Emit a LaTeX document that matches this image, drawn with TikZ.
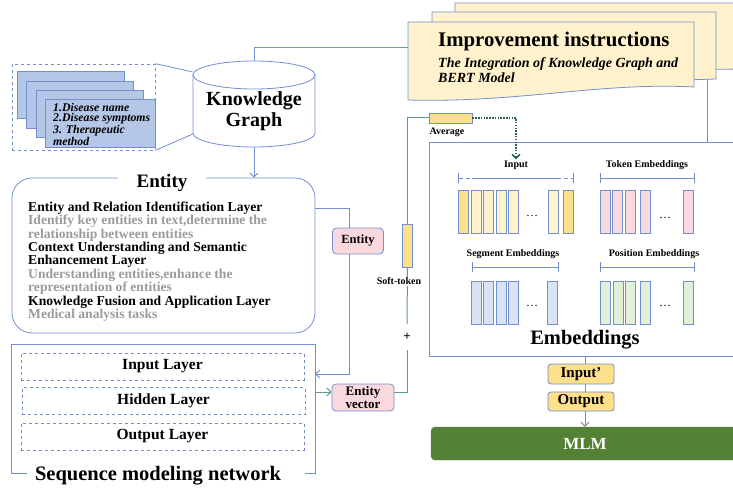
\documentclass[tikz,border=0pt]{standalone}
\usepackage{fontspec}
\setmainfont{Liberation Serif}
\usetikzlibrary{arrows.meta,positioning}

\definecolor{kgblue}{RGB}{114,143,206}
\definecolor{sheetblue}{RGB}{180,199,231}
\definecolor{paper}{RGB}{255,242,204}
\definecolor{gold}{RGB}{255,224,138}
\definecolor{rose}{RGB}{249,217,222}
\definecolor{segblue}{RGB}{218,227,243}
\definecolor{posgreen}{RGB}{226,240,217}
\definecolor{softteal}{RGB}{96,155,140}
\definecolor{darkteal}{RGB}{38,100,85}
\definecolor{stemgray}{RGB}{135,150,125}
\definecolor{mlmgreen}{RGB}{84,130,53}
\definecolor{note}{RGB}{155,155,155}

\tikzset{
  outline/.style={draw=kgblue, line width=0.8pt},
  sheet/.style={outline, fill=sheetblue, minimum width=107pt, minimum height=47pt, inner sep=0pt},
  netlayer/.style={draw=kgblue, dashed, line width=0.7pt, minimum width=283pt, minimum height=27pt, inner sep=0pt, font=\bfseries\fontsize{15.5}{16}\selectfont},
  entitytag/.style={outline, fill=rose, rounded corners=4pt, align=center, inner sep=0pt},
  pill/.style={outline, fill=gold, rounded corners=3pt, minimum width=66pt, inner sep=0pt, font=\bfseries\fontsize{15}{16}\selectfont},
  embbar/.style={draw=kgblue, line width=0.7pt, minimum width=10.5pt, minimum height=43pt, inner sep=0pt},
  lbl/.style={font=\bfseries\fontsize{10}{11}\selectfont, inner sep=1pt},
  bracket/.style={draw=kgblue, line width=0.7pt, {Bar[width=10pt]}-{Bar[width=10pt]}},
  link/.style={draw=kgblue, line width=0.8pt},
  tline/.style={draw=softteal, line width=1pt},
  barb/.style={-{Straight Barb[length=4pt,width=8pt]}},
}

\begin{document}
\begin{tikzpicture}[x=1pt, y=-1pt, font=\bfseries]
\useasboundingbox (0,0) rectangle (733,489);

\draw[outline, fill=paper] (455,3) -- (745,3) -- (745,69) -- (455,72) -- cycle;
\draw[outline, fill=paper] (432,12) -- (716,12) -- (716,79) -- (432,88) -- cycle;
\draw[outline, fill=paper] (408,22) -- (694,22) -- (694,87) .. controls (600,82) and (520,103) .. (408,100) -- cycle;
\node[anchor=base west, inner sep=0pt, font=\bfseries\fontsize{20.8}{22}\selectfont] (instr) at (438,47) {Improvement instructions};
\node[anchor=north west, inner sep=0pt, align=left, font=\bfseries\itshape\fontsize{14}{14.5}\selectfont] (instrsub) at (438,57.5) {The Integration of Knowledge Graph and\\BERT Model};
\coordinate (instrin) at (408,47);
\coordinate (instrout) at (707,79);

\node[draw=kgblue, dashed, line width=0.7pt, minimum width=143pt, minimum height=86pt, inner sep=0pt] (docs) at (83.5,107) {};
\foreach \x/\y [count=\i] in {70.5/94.5, 80/104.5, 89.5/113.5}
  \node[sheet] (sheet\i) at (\x,\y) {};
\node[sheet, minimum width=110pt, minimum height=48pt] (sheet4) at (100,123) {};
\node[anchor=north west, inner sep=0pt, align=left, font=\bfseries\itshape\fontsize{11.8}{10.6}\selectfont] (doctext) at (53,103) {1.Disease name\\2.Disease symptoms\\3. Therapeutic\\method};

\node[minimum width=122pt, minimum height=86pt, inner sep=0pt] (kg) at (254,104) {};
\draw[outline, fill=white] (193,75) -- (193,133) arc[start angle=180, end angle=360, x radius=61pt, y radius=14pt] -- (315,75) arc[start angle=0, end angle=180, x radius=61pt, y radius=14pt] -- cycle;
\draw[outline] (193,75) arc[start angle=180, end angle=360, x radius=61pt, y radius=14pt];
\node[align=center, inner sep=0pt, font=\bfseries\fontsize{20}{21}\selectfont] (kgtext) at (254,111.5) {Knowledge\\Graph};
\draw[link] (docs.north east) -- ([yshift=32pt]kg.west);
\draw[link] (docs.south east) -- ([yshift=-30pt]kg.west);
\draw[link] (kg.north) |- (instrin);

\node[outline, rounded corners=20pt, minimum width=303pt, minimum height=155pt, inner sep=0pt] (entbox) at (163.5,255.5) {};
\node[fill=white, inner xsep=19pt, inner ysep=2pt, font=\bfseries\fontsize{19}{20}\selectfont] (enttitle) at (162,182.5) {Entity};
\draw[link, barb] (kg.south) -- (entbox.north -| kg.south);
\node[anchor=north west, inner sep=0pt, align=left, font=\bfseries\fontsize{13.6}{13.4}\selectfont] (enttext) at (28,201.5) {Entity and Relation Identification Layer\\
\textcolor{note}{Identify key entities in text,determine the}\\
\textcolor{note}{relationship between entities}\\
Context Understanding and Semantic\\
Enhancement Layer\\
\textcolor{note}{Understanding entities,enhance the}\\
\textcolor{note}{representation of entities}\\
Knowledge Fusion and Application Layer\\
\textcolor{note}{Medical analysis tasks}};

\node[minimum width=303pt, minimum height=128pt, inner sep=0pt] (seq) at (163.5,409) {};
\draw[outline] ([xshift=15pt]seq.south west) -- (seq.south west) -- (seq.north west) -- (seq.north east) -- (seq.south east) -- ([xshift=-10pt]seq.south east);
\node[font=\bfseries\fontsize{20.5}{21}\selectfont, inner sep=0pt] (seqtitle) at (158,476) {Sequence modeling network};
\node[netlayer] (inlayer) at (162.5,366.5) {Input Layer};
\node[netlayer] (hidlayer) at (163.5,401) {Hidden Layer};
\node[netlayer] (outlayer) at (162.5,436.5) {Output Layer};

\draw[link, barb] ([yshift=47.5pt]entbox.east) -- ++(34,0) |- ([yshift=35pt]seq.east);
\node[entitytag, minimum width=51pt, minimum height=26pt, font=\bfseries\fontsize{12.5}{13}\selectfont] (entnode) at (358,241) {Entity};
\node[entitytag, minimum width=62pt, minimum height=27pt, font=\bfseries\fontsize{13}{12.7}\selectfont] (entvec) at (363,397.5) {Entity\\vector};
\draw[tline, barb] ([yshift=17pt]seq.east) -- (entvec.west |- 0,392);

\node[embbar, fill=gold] (soft) at (407.5,245.5) {};
\node[minimum height=26pt, inner sep=0pt, font=\bfseries\fontsize{13}{13}\selectfont] (plus) at (407,337) {+};
\node[outline, fill=gold, minimum width=43pt, minimum height=10pt, inner sep=0pt] (avg) at (450.5,118) {};
\node[lbl] (avglbl) at (447,132) {Average};
\draw[tline] (entvec.east |- 0,392) -| (plus.south);
\draw[tline] (plus.north) -- (soft.south);
\node[lbl, fill=white] (softlbl) at (399,281.5) {Soft-token};
\draw[tline] (soft.north) |- (avg.west);

\node[outline, minimum width=312pt, minimum height=214pt, inner sep=0pt] (emb) at (585,249) {};
\node[font=\bfseries\fontsize{20.5}{21}\selectfont, inner sep=0pt] (embtitle) at (585,340) {Embeddings};
\draw[link] (instrout) -- (instrout |- emb.north);
\node[lbl] (inlbl) at (516,165) {Input};
\node[lbl] (toklbl) at (647,165) {Token Embeddings};
\node[lbl] (seglbl) at (513,254) {Segment Embeddings};
\node[lbl] (poslbl) at (654,254) {Position Embeddings};
\draw[darkteal, line width=1.6pt, dash pattern=on 1.5pt off 1.3pt, -{Straight Barb[length=4pt,width=8pt]}] (avg.east) -| (inlbl.north);

\draw[bracket, dash pattern=on 4pt off 3pt on 4pt off 2pt on 89pt off 3pt on 4pt off 3pt on 4pt] (458,178) -- (574,178);
\draw[bracket] (600,178) -- (695,178);
\draw[bracket] (472,267) -- (559,267);
\draw[bracket] (600,267) -- (695,267);

\foreach \x/\c in {458/gold,471/paper,483/paper,496/paper,508/paper,548/paper,563/gold}
  \node[embbar, fill=\c] (inbar\x) at (\x+5.25,211.5) {};
\foreach \x in {600,612,625,640,683}
  \node[embbar, fill=rose] (tokbar\x) at (\x+5.25,211.5) {};
\foreach \x in {471,483,496,508,547}
  \node[embbar, fill=segblue] (segbar\x) at (\x+5.25,302.5) {};
\foreach \x in {600,613,625,640,683}
  \node[embbar, fill=posgreen] (posbar\x) at (\x+5.25,302.5) {};
\foreach \x/\y [count=\i] in {532/216, 665/218, 532/306, 665/306}
  \node[inner sep=0pt, font=\mdseries\fontsize{12}{12}\selectfont] (dots\i) at (\x,\y) {\dots};

\node[pill, minimum height=20pt] (inprime) at (581,374) {Input'};
\node[pill, minimum height=19pt] (outp) at (581,401.5) {Output};
\node[fill=mlmgreen, draw=black!55, rounded corners=4pt, minimum width=308pt, minimum height=33pt, inner sep=0pt, text=white, font=\bfseries\fontsize{17}{18}\selectfont] (mlm) at (585,443.5) {MLM};
\draw[stemgray, line width=1pt] (emb.south) -- (emb.south |- inprime.north);
\draw[stemgray, line width=1pt] (emb.south |- inprime.south) -- (emb.south |- outp.north);
\draw[stemgray, line width=1pt, barb] (emb.south |- outp.south) -- (mlm.north);
\end{tikzpicture}
\end{document}
